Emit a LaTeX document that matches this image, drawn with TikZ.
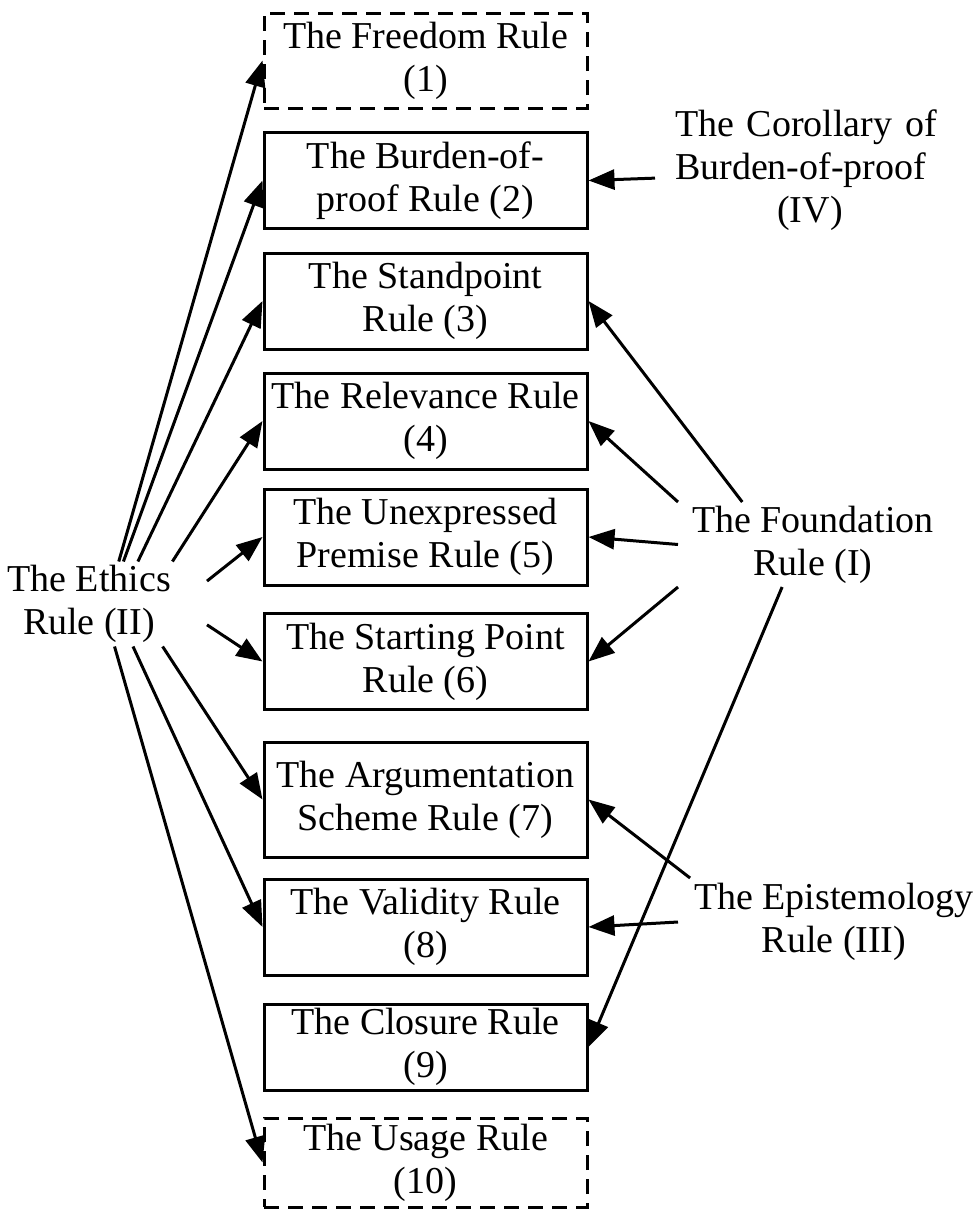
\documentclass[tikz,border=0pt]{standalone}
\usepackage{fontspec}
\setmainfont{Liberation Serif}
\usetikzlibrary{arrows.meta}
\newcommand{\rulesize}{\fontsize{19}{21.5}\selectfont}

\begin{document}
\begin{tikzpicture}[x=0.5pt, y=-0.5pt,
  rule/.style={draw, line width=1.5pt, minimum width=161.5pt, minimum height=48pt, align=center, inner sep=2pt, font=\rulesize},
  optrule/.style={rule, dash pattern=on 7.5pt off 4.5pt},
  src/.style={align=center, font=\rulesize, inner sep=0pt, outer sep=0pt},
  arr/.style={-{Triangle[length=13pt, width=10pt]}, line width=1.5pt}]
  \useasboundingbox (0,0) rectangle (974,1215);

  % the ten rules
  \node[optrule, minimum height=47.5pt] (freedom) at (425.5,60.5) {The Freedom Rule\\(1)};
  \node[rule] (burden) at (425.5,180.5) {The Burden-of-\\proof Rule (2)};
  \node[rule] (standpoint) at (425.5,301) {The Standpoint\\Rule (3)};
  \node[rule] (relevance) at (425.5,421) {The Relevance Rule\\(4)};
  \node[rule] (unexpressed) at (425.5,537) {The Unexpressed\\Premise Rule (5)};
  \node[rule] (starting) at (425.5,661.5) {The Starting Point\\Rule (6)};
  \node[rule, minimum height=57.5pt] (scheme) at (425.5,799.5) {The Argumentation\\Scheme Rule (7)};
  \node[rule] (validity) at (425.5,927) {The Validity Rule\\(8)};
  \node[rule, minimum height=43pt] (closure) at (425.5,1047) {The Closure Rule\\(9)};
  \node[optrule, minimum height=44.5pt] (usage) at (425.5,1162.5) {The Usage Rule\\(10)};

  % the higher principles
  \node[src, minimum width=118pt, minimum height=42.5pt] (ethics) at (89,604) {The Ethics\\Rule (II)};
  \node[src, minimum width=135pt, minimum height=42.5pt] (foundation) at (813,544.5) {The Foundation\\Rule (I)};
  \node[src, minimum width=156pt, minimum height=44pt] (episteme) at (834,922) {The Epistemology\\Rule (III)};
  \node[src, align=left, text width=135pt, inner xsep=10pt] (corollary) at (810,170)
    {\makebox[135pt][s]{The Corollary of}\\Burden-of-proof\\\makebox[135pt]{(IV)}};

  \draw[arr] (ethics.55) -- (freedom.west);
  \draw[arr] (ethics.51) -- (burden.west);
  \draw[arr] (ethics.41) -- (standpoint.west);
  \draw[arr] (ethics.27) -- (relevance.west);
  \draw[arr] (ethics.11) -- (unexpressed.west);
  \draw[arr] (ethics.-10) -- (starting.west);
  \draw[arr] (ethics.-30) -- (scheme.west);
  \draw[arr] (ethics.-44) -- (validity.west);
  \draw[arr] (ethics.-59) -- (usage.west);

  \draw[arr] (foundation.149) -- (standpoint.east);
  \draw[arr] (foundation.north west) -- (relevance.east);
  \draw[arr] (foundation.west) -- (unexpressed.east);
  \draw[arr] (foundation.south west) -- (starting.east);
  \draw[arr] (foundation.234) -- (closure.east);

  \draw[arr] (episteme.163) -- (scheme.east);
  \draw[arr] (episteme.west) -- (validity.east);

  \draw[arr] (corollary.183) -- (burden.east);
\end{tikzpicture}
\end{document}
